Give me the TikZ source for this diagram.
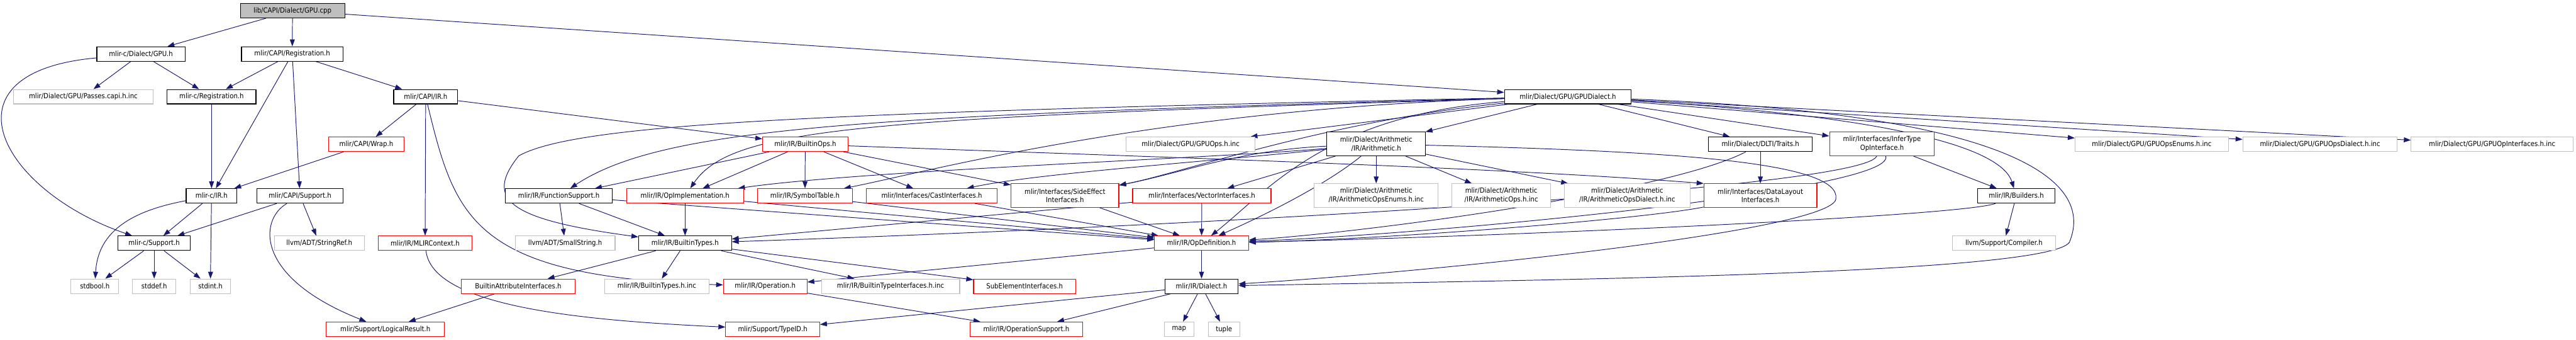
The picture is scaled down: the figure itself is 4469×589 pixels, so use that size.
\documentclass[tikz,border=0pt]{standalone}
\usepackage{fontspec}
\setmainfont{DejaVu Sans Condensed}
\usetikzlibrary{arrows.meta, backgrounds}
\definecolor{EdgeBlue}{HTML}{191970}
\definecolor{ExtGray}{HTML}{BFBFBF}
\definecolor{RootGray}{HTML}{BFBFBF}
\definecolor{TruncRed}{HTML}{FF0000}

\begin{document}
\begin{tikzpicture}[>={Triangle[length=0.24cm, width=0.17cm]}, x=0.02cm, y=-0.02cm,
        hdr/.style={rectangle, draw=black, fill=white, line width=0.7pt, minimum height=0.5cm, inner sep=0pt, align=center, font=\fontsize{7}{8.5}\selectfont},
        wd/.style={minimum width=#1*0.02cm},
        tall/.style={minimum height=0.82cm},
        ext/.style={hdr, draw=ExtGray},
        trunc/.style={hdr, draw=TruncRed},
        rootbox/.style={hdr, fill=RootGray},
        dep/.style={->, draw=EdgeBlue, line width=0.6pt}]

        \useasboundingbox (0,0) rectangle (4469,589);

        \node[rootbox, wd=181] (root) at (507.5,18.5) {lib/CAPI/Dialect/GPU.cpp};

        \node[hdr, wd=153] (GPUh) at (244.5,93.5) {mlir-c/Dialect/GPU.h};
        \node[hdr, wd=176] (CAPIReg) at (507,93.5) {mlir/CAPI/Registration.h};

        \node[ext, wd=243] (Passes) at (144.5,167.5) {mlir/Dialect/GPU/Passes.capi.h.inc};
        \node[hdr, wd=154] (cReg) at (367,167.5) {mlir-c/Registration.h};
        \node[hdr, wd=111] (CAPIIR) at (738.5,167.5) {mlir/CAPI/IR.h};
        \node[hdr, wd=220] (GPUDialect) at (2720,167.5) {mlir/Dialect/GPU/GPUDialect.h};

        \node[trunc, wd=131] (Wrap) at (635.5,250) {mlir/CAPI/Wrap.h};
        \node[trunc, wd=148] (BuiltinOps) at (1397,250) {mlir/IR/BuiltinOps.h};
        \node[ext, wd=223] (GPUOpsInc) at (2065.5,250) {mlir/Dialect/GPU/GPUOps.h.inc};
        \node[hdr, wd=171, tall] (Arith) at (2387.5,249.5) {mlir/Dialect/Arithmetic\\/IR/Arithmetic.h};
        \node[hdr, wd=180] (DLTITraits) at (3054,250) {mlir/Dialect/DLTI/Traits.h};
        \node[trunc, wd=182, tall] (InferType) at (3265,249.5) {mlir/Interfaces/InferType\\OpInterface.h};
        \node[ext, wd=266] (GPUOpsEnums) at (3733,250) {mlir/Dialect/GPU/GPUOpsEnums.h.inc};
        \node[ext, wd=268] (GPUOpsDialect) at (4025,250) {mlir/Dialect/GPU/GPUOpsDialect.h.inc};
        \node[ext, wd=281] (GPUOpInterfaces) at (4323.5,250) {mlir/Dialect/GPU/GPUOpInterfaces.h.inc};

        \node[hdr, wd=88] (cIR) at (367,339.5) {mlir-c/IR.h};
        \node[hdr, wd=149] (CAPISupport) at (520.5,339.5) {mlir/CAPI/Support.h};
        \node[hdr, wd=185] (FunctionSupport) at (969.5,339.5) {mlir/IR/FunctionSupport.h};
        \node[trunc, wd=203] (OpImplementation) at (1188.5,339.5) {mlir/IR/OpImplementation.h};
        \node[trunc, wd=165] (SymbolTable) at (1396.5,339.5) {mlir/IR/SymbolTable.h};
        \node[trunc, wd=227] (CastIf) at (1616.5,339.5) {mlir/Interfaces/CastInterfaces.h};
        \node[trunc, wd=187, tall] (SideEffect) at (1847.5,339) {mlir/Interfaces/SideEffect\\Interfaces.h};
        \node[trunc, wd=240] (VectorIf) at (2085,339.5) {mlir/Interfaces/VectorInterfaces.h};
        \node[ext, wd=215, tall] (ArithEnums) at (2387.5,339) {mlir/Dialect/Arithmetic\\/IR/ArithmeticOpsEnums.h.inc};
        \node[ext, wd=171, tall] (ArithOps) at (2604.5,339) {mlir/Dialect/Arithmetic\\/IR/ArithmeticOps.h.inc};
        \node[ext, wd=218, tall] (ArithDialect) at (2823,339) {mlir/Dialect/Arithmetic\\/IR/ArithmeticOpsDialect.h.inc};
        \node[trunc, wd=196, tall] (DataLayout) at (3054,339) {mlir/Interfaces/DataLayout\\Interfaces.h};
        \node[hdr, wd=134] (Builders) at (3498,339.5) {mlir/IR/Builders.h};

        \node[hdr, wd=125] (cSupport) at (267.5,421.5) {mlir-c/Support.h};
        \node[ext, wd=156] (StringRef) at (554,421.5) {llvm/ADT/StringRef.h};
        \node[trunc, wd=163] (MLIRContext) at (737.5,421.5) {mlir/IR/MLIRContext.h};
        \node[ext, wd=173] (SmallString) at (980.5,421.5) {llvm/ADT/SmallString.h};
        \node[hdr, wd=161] (BuiltinTypes) at (1188.5,421.5) {mlir/IR/BuiltinTypes.h};
        \node[trunc, wd=163] (OpDefinition) at (2084.5,421.5) {mlir/IR/OpDefinition.h};
        \node[ext, wd=179] (Compiler) at (3476.5,421.5) {llvm/Support/Compiler.h};

        \node[ext, wd=83] (stdbool) at (164.5,496) {stdbool.h};
        \node[ext, wd=75] (stddef) at (267.5,496) {stddef.h};
        \node[ext, wd=70] (stdint) at (365,496) {stdint.h};
        \node[trunc, wd=198] (BuiltinAttrIf) at (899,496) {BuiltinAttributeInterfaces.h};
        \node[ext, wd=181] (BuiltinTypesInc) at (1139.5,496) {mlir/IR/BuiltinTypes.h.inc};
        \node[trunc, wd=145] (Operation) at (1327.5,496) {mlir/IR/Operation.h};
        \node[ext, wd=240] (BuiltinTypeIfInc) at (1545,496) {mlir/IR/BuiltinTypeInterfaces.h.inc};
        \node[trunc, wd=177] (SubElement) at (1777.5,496) {SubElementInterfaces.h};
        \node[hdr, wd=127] (Dialect) at (2084.5,496) {mlir/IR/Dialect.h};

        \node[trunc, wd=205] (LogicalResult) at (668.5,570.5) {mlir/Support/LogicalResult.h};
        \node[trunc, wd=163] (TypeID) at (1340.5,570.5) {mlir/Support/TypeID.h};
        \node[trunc, wd=195] (OperationSupport) at (1780.5,570.5) {mlir/IR/OperationSupport.h};
        \node[ext, wd=51] (map) at (2045.5,570.5) {map};
        \node[ext, wd=55] (tuple) at (2123.5,570.5) {tuple};

        \begin{scope}[on background layer]
        \draw[dep] (root) -- (GPUh);
        \draw[dep] (root) -- (CAPIReg);
        \draw[dep] (root) -- (GPUDialect);
        \draw[dep] (GPUh) -- (Passes);
        \draw[dep] (GPUh) -- (cReg);
        \draw[dep] (GPUh) .. controls (-110,125) and (0,330) .. (cSupport);
        \draw[dep] (CAPIReg) -- (cReg);
        \draw[dep] (CAPIReg) -- (cIR);
        \draw[dep] (CAPIReg) -- (CAPISupport);
        \draw[dep] (CAPIReg) -- (CAPIIR);
        \draw[dep] (cReg) -- (cIR);
        \draw[dep] (CAPIIR) -- (Wrap);
        \draw[dep] (CAPIIR) -- (MLIRContext);
        \draw[dep] (CAPIIR) -- (BuiltinOps);
        \draw[dep] (CAPIIR) .. controls (790,380) and (820,480) .. (Operation);
        \draw[dep] (Wrap) -- (cIR);
        \draw[dep] (cIR) .. controls (230,365) and (170,400) .. (stdbool);
        \draw[dep] (cIR) -- (cSupport);
        \draw[dep] (cIR) -- (stdint);
        \draw[dep] (CAPISupport) -- (cSupport);
        \draw[dep] (CAPISupport) -- (StringRef);
        \draw[dep] (CAPISupport) .. controls (450,380) and (440,480) .. (LogicalResult);
        \draw[dep] (cSupport) -- (stdbool);
        \draw[dep] (cSupport) -- (stddef);
        \draw[dep] (cSupport) -- (stdint);
        \draw[dep] (MLIRContext) .. controls (750,530) and (1000,555) .. (TypeID);
        \draw[dep] (BuiltinAttrIf) -- (LogicalResult);

        \draw[dep] (BuiltinOps) -- (FunctionSupport);
        \draw[dep] (BuiltinOps) -- (OpImplementation);
        \draw[dep] (BuiltinOps) -- (SymbolTable);
        \draw[dep] (BuiltinOps) -- (CastIf);
        \draw[dep] (BuiltinOps) -- (SideEffect);
        \draw[dep] (BuiltinOps) .. controls (2000,272) and (2600,290) .. (DataLayout.north west);
        \draw[dep] (FunctionSupport) -- (SmallString);
        \draw[dep] (FunctionSupport) -- (BuiltinTypes);
        \draw[dep] (FunctionSupport) -- (OpDefinition);
        \draw[dep] (OpImplementation) -- (BuiltinTypes);
        \draw[dep] (OpImplementation) -- (OpDefinition);
        \draw[dep] (SymbolTable) -- (OpDefinition);
        \draw[dep] (CastIf) -- (OpDefinition);
        \draw[dep] (SideEffect) -- (OpDefinition);
        \draw[dep] (VectorIf) -- (OpDefinition);
        \draw[dep] (VectorIf) -- (BuiltinTypes);
        \draw[dep] (BuiltinTypes) -- (BuiltinAttrIf);
        \draw[dep] (BuiltinTypes) -- (BuiltinTypesInc);
        \draw[dep] (BuiltinTypes) -- (BuiltinTypeIfInc);
        \draw[dep] (BuiltinTypes) -- (SubElement);
        \draw[dep] (OpDefinition) -- (Dialect);
        \draw[dep] (OpDefinition) -- (Operation);
        \draw[dep] (Operation) -- (OperationSupport);
        \draw[dep] (Dialect) -- (OperationSupport);
        \draw[dep] (Dialect) -- (TypeID);
        \draw[dep] (Dialect) -- (map);
        \draw[dep] (Dialect) -- (tuple);

        \draw[dep] (GPUDialect) -- (Arith);
        \draw[dep] (GPUDialect) -- (GPUOpsInc);
        \draw[dep] (GPUDialect) -- (DLTITraits);
        \draw[dep] (GPUDialect) -- (InferType);
        \draw[dep] (GPUDialect) -- (GPUOpsEnums);
        \draw[dep] (GPUDialect) -- (GPUOpsDialect);
        \draw[dep] (GPUDialect) -- (GPUOpInterfaces);
        \draw[dep] (GPUDialect) .. controls (3250,200) and (3470,250) .. (Builders);
        \draw[dep] (GPUDialect) .. controls (3450,195) and (3640,300) .. (3590,420) .. controls (3550,475) and (2700,485) .. (Dialect);
        \draw[dep] (GPUDialect) .. controls (1400,195) and (1000,215) .. (900,270) .. controls (840,345) and (880,380) .. (BuiltinTypes);
        \draw[dep] (GPUDialect) .. controls (1500,200) and (1150,220) .. (FunctionSupport);
        \draw[dep] (GPUDialect) .. controls (1500,205) and (1270,220) .. (OpImplementation);
        \draw[dep] (GPUDialect) .. controls (2000,190) and (1600,300) .. (SymbolTable);
        \draw[dep] (GPUDialect) .. controls (2300,200) and (2200,330) .. (OpDefinition);
        \draw[dep] (GPUDialect) .. controls (2300,210) and (2050,300) .. (SideEffect);

        \draw[dep] (Arith) -- (ArithEnums);
        \draw[dep] (Arith) -- (ArithOps);
        \draw[dep] (Arith) -- (ArithDialect);
        \draw[dep] (Arith) -- (VectorIf);
        \draw[dep] (Arith) .. controls (2150,260) and (2050,300) .. (SideEffect);
        \draw[dep] (Arith) .. controls (2100,280) and (1800,300) .. (CastIf);
        \draw[dep] (Arith) .. controls (2100,275) and (1500,295) .. (OpImplementation);
        \draw[dep] (Arith) .. controls (2300,320) and (2200,370) .. (OpDefinition);
        \draw[dep] (Arith) .. controls (2900,262) and (3195,280) .. (3185,345) .. controls (3175,400) and (2500,470) .. (Dialect);
        \draw[dep] (DLTITraits) -- (DataLayout);
        \draw[dep] (DLTITraits) .. controls (2900,330) and (2400,400) .. (OpDefinition);
        \draw[dep] (DataLayout) .. controls (2850,380) and (2400,415) .. (OpDefinition);
        \draw[dep] (InferType) -- (Builders);
        \draw[dep] (InferType) .. controls (3290,330) and (2500,405) .. (OpDefinition);
        \draw[dep] (InferType) .. controls (3230,330) and (2000,395) .. (BuiltinTypes);
        \draw[dep] (Builders) -- (Compiler);
        \draw[dep] (Builders) .. controls (3400,375) and (2600,410) .. (OpDefinition);
        \end{scope}
    \end{tikzpicture}
\end{document}
